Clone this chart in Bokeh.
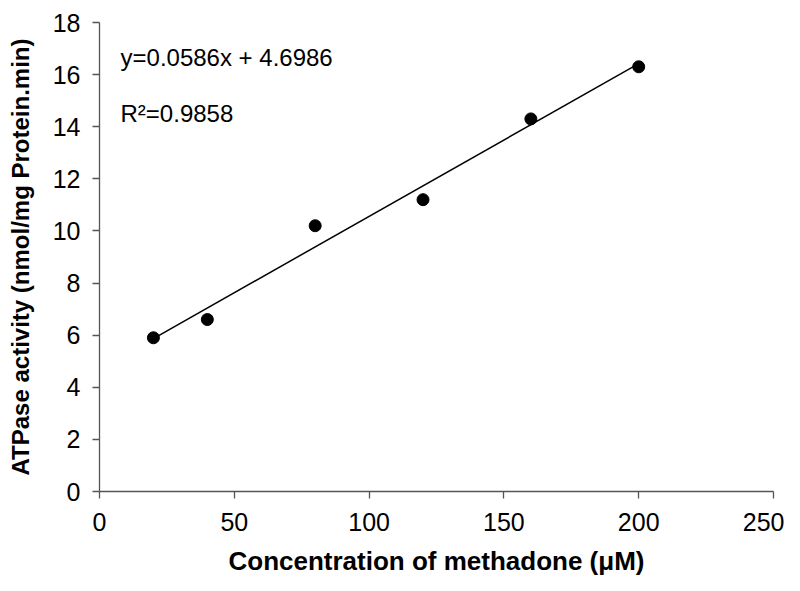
from bokeh.plotting import figure
from bokeh.models import Range1d, FixedTicker, Label
from bokeh.embed import file_html
from bokeh.resources import INLINE

conc = [20, 40, 80, 120, 160, 200]
activity = [5.9, 6.6, 10.2, 11.2, 14.3, 16.3]
trend_x = [20, 200]
trend_y = [5.87, 16.42]
x_ticks = [0, 50, 100, 150, 200, 250]
y_ticks = [0, 2, 4, 6, 8, 10, 12, 14, 16, 18]
equation = "y=0.0586x + 4.6986"
r2_text = "R\u00b2=0.9858"

FONT = "Liberation Sans"

p = figure(width=784, height=578, output_backend="svg", toolbar_location=None,
           x_range=Range1d(0, 250), y_range=Range1d(0, 18),
           min_border_left=99, min_border_right=11, min_border_top=22, min_border_bottom=84)
p.outline_line_color = None
p.xgrid.grid_line_color = None
p.ygrid.grid_line_color = None

p.line(trend_x, trend_y, line_color="black", line_width=1.5)
p.scatter(conc, activity, size=12, color="black")

for ax in (p.xaxis, p.yaxis):
    ax.axis_line_color = "#555555"
    ax.axis_line_width = 1.3
    ax.major_tick_line_color = "#555555"
    ax.major_tick_line_width = 1.3
    ax.major_tick_out = 7
    ax.major_tick_in = 0
    ax.minor_tick_line_color = None
    ax.major_label_text_font = FONT
    ax.major_label_text_font_size = "25px"
    ax.major_label_text_color = "black"
    ax.axis_label_text_font = FONT
    ax.axis_label_text_font_style = "bold"
    ax.axis_label_text_color = "black"

p.xaxis.axis_label_text_font_size = "26px"
p.yaxis.axis_label_text_font_size = "24px"
p.xaxis.ticker = FixedTicker(ticks=x_ticks)
p.yaxis.ticker = FixedTicker(ticks=y_ticks)
p.xaxis.major_label_standoff = 14
p.yaxis.major_label_standoff = 12
p.xaxis.axis_label = "Concentration of methadone (\u03bcM)"
p.yaxis.axis_label = "ATPase activity (nmol/mg Protein.min)"
p.xaxis.axis_label_standoff = 12
p.yaxis.axis_label_standoff = 16

p.add_layout(Label(x=7.8, y=16.65, text=equation, text_font=FONT, text_font_size="24px",
                   text_color="black", text_baseline="alphabetic"))
p.add_layout(Label(x=7.8, y=14.5, text=r2_text, text_font=FONT, text_font_size="24px",
                   text_color="black", text_baseline="alphabetic"))

open("out.html", "w").write(file_html(p, INLINE))
